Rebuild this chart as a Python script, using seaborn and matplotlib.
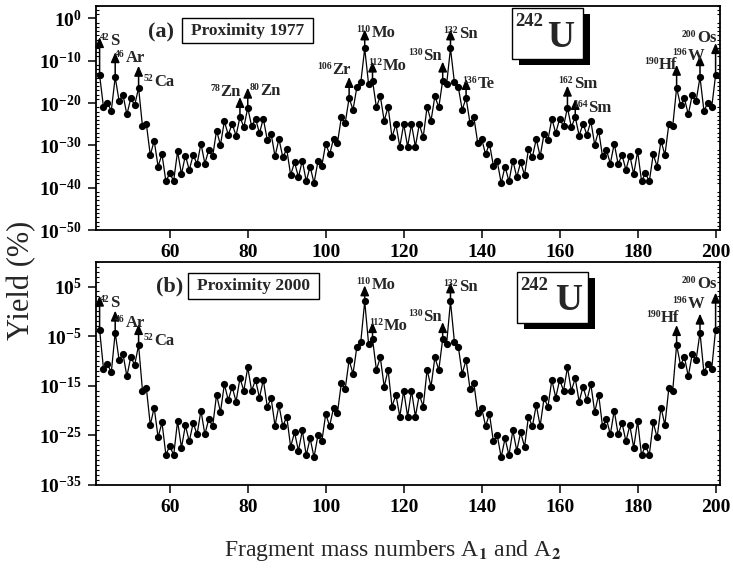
import numpy as np
import pandas as pd
import matplotlib
matplotlib.use("Agg")
import matplotlib.pyplot as plt
import seaborn as sns
from matplotlib.patches import Rectangle
from matplotlib.transforms import offset_copy
from matplotlib.ticker import FixedLocator, FuncFormatter, NullFormatter
from matplotlib.offsetbox import TextArea, HPacker, AnnotationBbox

# ---------------------------------------------------------------- data
COMPOUND_A = 242  # 242U -> A1 + A2 = 242

# light fragment mass numbers (heavy partner is 242 - A)
mass_light = np.arange(42, 122)

# log10 of the yield (%) for the light fragments, proximity 1977
log_yield_1977 = [
    -13.4, -21.0, -20.0, -21.8, -13.9, -19.5, -18.1, -22.7, -18.9, -20.5,
    -16.4, -25.5, -25.0, -32.3, -28.9, -35.0, -32.1, -38.5, -36.6, -38.4,
    -31.4, -36.8, -32.4, -35.8, -32.3, -34.4, -29.6, -34.3, -31.1, -32.6,
    -26.5, -29.9, -24.3, -27.5, -24.9, -27.7, -23.3, -25.7, -21.1, -25.5,
    -23.7, -27.1, -23.7, -28.7, -27.3, -32.6, -28.5, -32.8, -30.9, -37.0,
    -34.0, -37.5, -33.6, -38.5, -35.0, -38.9, -33.8, -34.8, -29.6, -32.1,
    -28.5, -29.5, -23.4, -24.7, -18.8, -21.6, -16.2, -15.1, -7.1, -15.6,
    -14.7, -21.0, -18.4, -24.2, -20.9, -28.1, -25.0, -30.3, -25.0, -30.3,
]

# log10 of the yield (%) for the light fragments, proximity 2000
log_yield_2000 = [
    -3.7, -11.6, -10.6, -12.3, -4.3, -9.8, -8.6, -13.1, -9.2, -10.8,
    -6.8, -16.0, -15.5, -22.9, -19.4, -25.4, -22.4, -28.9, -27.1, -29.0,
    -22.1, -27.5, -23.0, -26.2, -22.5, -24.8, -20.0, -24.8, -21.7, -23.2,
    -16.8, -20.3, -14.7, -17.9, -15.2, -18.2, -13.5, -16.0, -11.3, -16.0,
    -13.8, -17.4, -13.8, -19.2, -17.5, -23.1, -18.9, -23.2, -21.2, -27.3,
    -24.4, -28.1, -24.0, -29.0, -25.6, -29.4, -25.0, -26.2, -20.7, -23.1,
    -19.5, -20.5, -14.5, -15.6, -9.8, -12.6, -7.1, -6.1, 2.0, -6.6,
    -5.6, -11.8, -9.3, -15.2, -11.8, -19.2, -16.8, -21.2, -16.0, -21.2,
]

element = {42: "S", 46: "Ar", 52: "Ca", 78: "Zn", 80: "Zn", 106: "Zr",
           110: "Mo", 112: "Mo", 130: "Sn", 132: "Sn", 136: "Te",
           162: "Sm", 164: "Sm", 190: "Hf", 196: "W", 200: "Os"}

marked_1977 = [42, 46, 52, 78, 80, 106, 110, 112, 130, 132, 136,
               162, 164, 190, 196, 200]
marked_2000 = [42, 46, 52, 110, 112, 130, 132, 190, 196, 200]

xtick_values = [60, 80, 100, 120, 140, 160, 180, 200]


def full_curve(log_half):
    """Both fragments of each split: A1 and its partner A2 = 242 - A1."""
    log_half = np.asarray(log_half)
    heavy = COMPOUND_A - mass_light[:-1]
    mass = np.concatenate([mass_light, heavy])
    logy = np.concatenate([log_half, log_half[:-1]])
    df = pd.DataFrame({"A": mass, "yield": 10.0 ** logy})
    return df.sort_values("A").reset_index(drop=True)


# ---------------------------------------------------------------- style
sns.set_style("ticks")
plt.rcParams.update({
    "font.family": ["Liberation Serif", "DejaVu Serif"],
    "font.weight": "bold",
    "mathtext.fontset": "custom",
    "mathtext.rm": "Liberation Serif:bold",
    "mathtext.it": "Liberation Serif:italic:bold",
    "mathtext.bf": "Liberation Serif:bold",
    "mathtext.default": "rm",
    "axes.edgecolor": "black",
    "axes.linewidth": 1.3,
    "xtick.color": "black",
    "ytick.color": "black",
})

W, H = 733, 579
fig = plt.figure(figsize=(W / 100, H / 100), dpi=100)
fig.patch.set_facecolor("white")

# panel frames in pixels: (left, top, right, bottom)
frames = {
    "top": (95.7, 5.7, 719.5, 230.0),
    "bottom": (95.7, 261.7, 719.5, 485.0),
}


def make_axes(frame):
    l, t, r, b = frame
    return fig.add_axes([l / W, 1 - b / H, (r - l) / W, (b - t) / H])


def rel(frame, x, y):
    """Pixel offset from the panel's top-left corner -> axes fraction."""
    l, t, r, b = frame
    return x / (r - l), 1 - y / (b - t)


def decade_label(v, pos):
    return r"$10^{%d}$" % int(round(np.log10(v)))


def style_axes(ax, ylo, yhi, majors):
    ax.set_yscale("log")
    ax.set_xlim(41, 201)
    ax.set_ylim(10.0 ** ylo, 10.0 ** yhi)
    ax.set_xticks(xtick_values)
    ax.set_xticklabels([str(v) for v in xtick_values])
    ax.yaxis.set_major_locator(FixedLocator(10.0 ** np.asarray(majors, float)))
    ax.yaxis.set_minor_locator(FixedLocator(10.0 ** np.arange(ylo, yhi + 1)))
    ax.yaxis.set_major_formatter(FuncFormatter(decade_label))
    ax.yaxis.set_minor_formatter(NullFormatter())
    ax.tick_params(axis="both", which="major", direction="out", length=6,
                   width=1.1, labelsize=14, pad=4)
    ax.tick_params(axis="y", which="major", right=False)
    ax.tick_params(axis="y", which="minor", left=True, right=True,
                   direction="in", length=2.2, width=0.8)
    ax.tick_params(axis="x", which="minor", bottom=False)
    for lab in ax.get_xticklabels():
        lab.set_fontweight("bold")
    for s in ax.spines.values():
        s.set_visible(True)
        s.set_color("black")
    ax.set_xlabel("")
    ax.set_ylabel("")


def draw_curve(ax, df):
    sns.lineplot(data=df, x="A", y="yield", ax=ax, color="black", lw=0.9,
                 marker="o", markersize=5.2, markeredgewidth=0,
                 markerfacecolor="black", sort=True, legend=False)


def mark_fragments(ax, df, marks, styles):
    ypos = dict(zip(df["A"], df["yield"]))
    for a in marks:
        length, dx, dy, ha = styles[a]
        y = ypos[a]
        tip = offset_copy(ax.transData, fig=fig, x=0, y=length, units="dots")
        ax.annotate("", xy=(a, y), xycoords=tip, xytext=(a, y),
                    textcoords="data",
                    arrowprops=dict(arrowstyle="-|>,head_length=0.6,head_width=0.26",
                                    mutation_scale=10, color="black", lw=1.1,
                                    shrinkA=0, shrinkB=0), zorder=6)
        sup = TextArea(str(a), textprops=dict(fontsize=7, fontweight="bold"))
        sym = TextArea(element[a], textprops=dict(fontsize=12, fontweight="bold"))
        label = HPacker(children=[sup, sym], align="top", pad=0, sep=0.5)
        ab = AnnotationBbox(label, (a, y), xycoords="data",
                            xybox=(dx, length + dy - 1.7), boxcoords="offset pixels",
                            box_alignment=(0.0 if ha == "left" else 1.0, 0.5),
                            frameon=False, pad=0, annotation_clip=False, zorder=7)
        ax.add_artist(ab)


def panel_badges(ax, frame, tag, tag_xy, box, box_text_xy, ubox, sup_xy, u_xy, label):
    fx, fy = rel(frame, *tag_xy)
    ax.text(fx, fy, tag, transform=ax.transAxes, ha="center", va="center",
            fontsize=16, fontweight="bold", zorder=8)
    (x0, y0), (x1, y1) = box
    ax0, ay1 = rel(frame, x0, y0)
    ax1, ay0 = rel(frame, x1, y1)
    ax.add_patch(Rectangle((ax0, ay0), ax1 - ax0, ay1 - ay0, transform=ax.transAxes,
                           fc="white", ec="black", lw=1.0, zorder=7, clip_on=False))
    fx, fy = rel(frame, *box_text_xy)
    ax.text(fx, fy, label, transform=ax.transAxes, ha="center", va="center",
            fontsize=12.5, fontweight="bold", zorder=8)
    (x0, y0), (x1, y1) = ubox
    sx0, sy1 = rel(frame, x0 + 7, y0 + 6)
    sx1, sy0 = rel(frame, x1 + 7, y1 + 6)
    ax.add_patch(Rectangle((sx0, sy0), sx1 - sx0, sy1 - sy0, transform=ax.transAxes,
                           fc="black", ec="black", lw=0, zorder=7, clip_on=False))
    ux0, uy1 = rel(frame, x0, y0)
    ux1, uy0 = rel(frame, x1, y1)
    ax.add_patch(Rectangle((ux0, uy0), ux1 - ux0, uy1 - uy0, transform=ax.transAxes,
                           fc="white", ec="black", lw=1.0, zorder=8, clip_on=False))
    fx, fy = rel(frame, *sup_xy)
    ax.text(fx, fy, "242", transform=ax.transAxes, ha="left", va="center",
            fontsize=13.5, fontweight="bold", zorder=9)
    fx, fy = rel(frame, *u_xy)
    ax.text(fx, fy, "U", transform=ax.transAxes, ha="left", va="center",
            fontsize=27, fontweight="bold", zorder=9)


# label layout: arrow length, label dx, label dy (px), alignment
styles_1977 = {
    42: (38, 0, -2, "left"), 46: (25, 0, -4, "left"), 52: (22, 5, -14, "left"),
    78: (20, 1, 7, "right"), 80: (20, 2, -2, "left"), 106: (21, 2, 9, "right"),
    110: (19, -8, -2, "left"), 112: (19, -4, -3, "left"), 130: (19, -1, 7, "right"),
    132: (19, -7, -3, "left"), 136: (19, -4, -3, "left"), 162: (22, -9, 3, "left"),
    164: (18, -2, -7, "left"), 190: (23, 1, 2, "right"), 196: (22, 4, 1, "right"),
    200: (32, 1, 7, "right"),
}
styles_2000 = {
    42: (34, 0, -6, "left"), 46: (22, 0, -11, "left"), 52: (21, 5, -15, "left"),
    110: (16, -8, 2, "left"), 112: (17, -3, -2, "left"), 130: (17, -1, 7, "right"),
    132: (19, -7, -3, "left"), 190: (20, 3, 9, "right"), 196: (19, 4, 11, "right"),
    200: (37, 1, 10, "right"),
}

# ---------------------------------------------------------------- panel (a)
ax_a = make_axes(frames["top"])
df_a = full_curve(log_yield_1977)
draw_curve(ax_a, df_a)
style_axes(ax_a, -50, 3, [-50, -40, -30, -20, -10, 0])
mark_fragments(ax_a, df_a, marked_1977, styles_1977)
panel_badges(ax_a, frames["top"], "(a)", (65.3, 26.3),
             ((86.3, 12.3), (217.3, 37.3)), (151.8, 25.0),
             ((416.6, 2.6), (487.6, 53.6)), (420.0, 15.8), (451.0, 31.8),
             "Proximity 1977")

# ---------------------------------------------------------------- panel (b)
ax_b = make_axes(frames["bottom"])
df_b = full_curve(log_yield_2000)
draw_curve(ax_b, df_b)
style_axes(ax_b, -35, 10, [-35, -25, -15, -5, 5])
mark_fragments(ax_b, df_b, marked_2000, styles_2000)
panel_badges(ax_b, frames["bottom"], "(b)", (73.8, 25.0),
             ((92.3, 11.6), (223.3, 37.6)), (157.8, 24.6),
             ((421.0, 10.6), (492.6, 61.0)), (424.3, 23.8), (459.3, 39.3),
             "Proximity 2000")

# ---------------------------------------------------------------- axis titles
fig.text(22 / W, 1 - 280 / H, "Yield (%)", rotation=90, ha="center", va="center",
         fontsize=22, fontweight="normal")
fig.text(392.5 / W, 1 - 556 / H, r"Fragment mass numbers A$_1$ and A$_2$",
         ha="center", va="baseline", fontsize=17, fontweight="normal",
         math_fontfamily="stix")

fig.savefig("out.png", dpi=100, facecolor="white")
